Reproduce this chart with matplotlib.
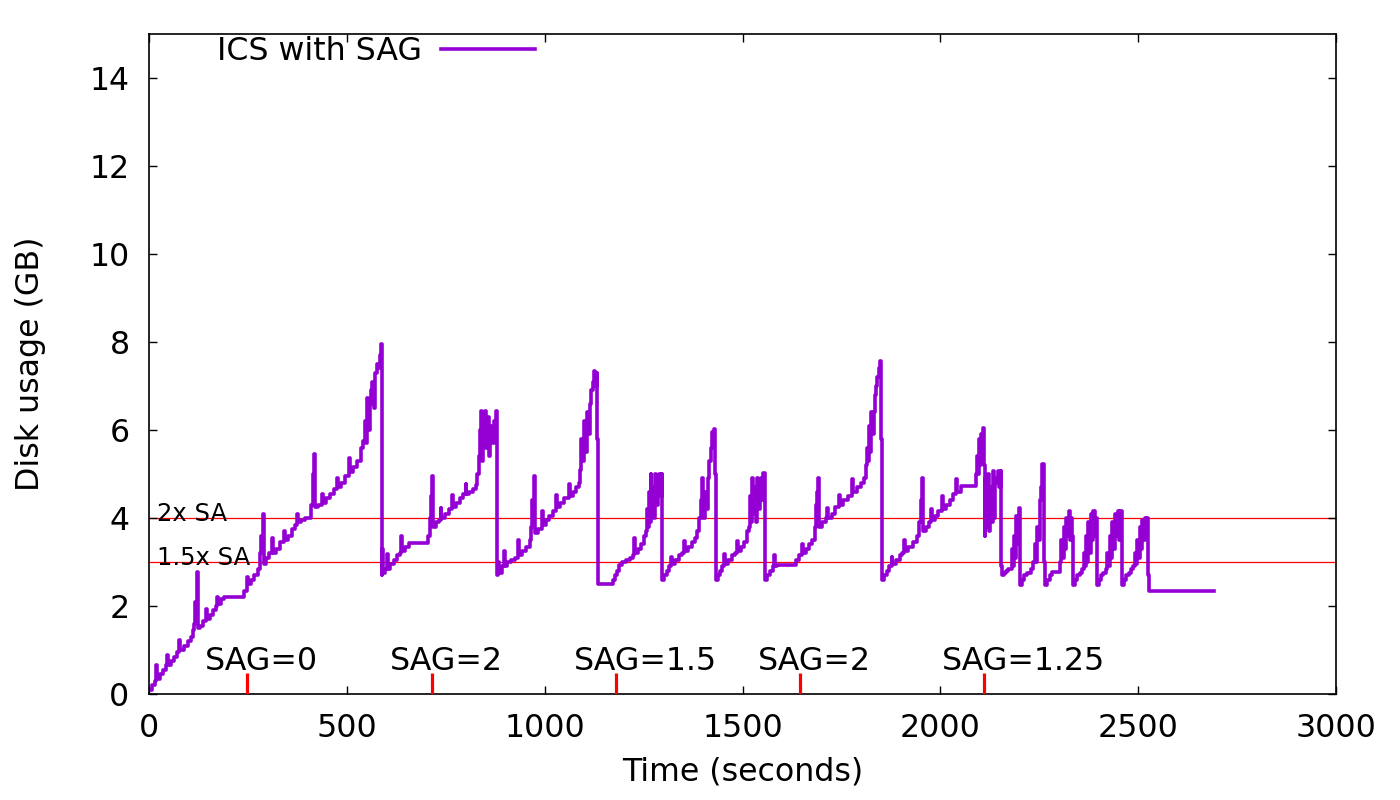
import matplotlib
matplotlib.use("Agg")
import matplotlib.pyplot as plt

plt.rcParams['font.family'] = ['DejaVu Sans']

# ---- data ----
time_s = [
    # cycle 1
    0, 8, 14, 18, 18, 20, 28, 35, 42, 45, 47, 55, 62, 70, 76, 78, 88, 98, 106, 110, 114, 117, 121, 123,
    130, 137, 144, 146, 155, 163, 170, 172, 174, 182, 190, 235, 240, 248, 248, 250, 258, 266, 275, 280,
    284, 288, 290, 296, 304, 311, 313, 320, 330, 341, 343, 352, 362, 370, 374, 376, 385, 395, 404, 410,
    414, 418, 420, 428, 438, 440, 448, 458, 467, 475, 477, 486, 495, 505, 507, 515, 525, 535, 540, 545,
    548, 551, 554, 558, 561, 564, 568, 572, 576, 580, 584, 587, 588,
    # cycle 2
    590, 592, 597, 601, 603, 610, 618, 626, 634, 637, 640, 648, 657, 702, 706, 710, 713, 715, 717, 725,
    733, 737, 739, 748, 757, 766, 768, 776, 785, 793, 800, 802, 810, 818, 826, 830, 834, 837, 840, 842,
    845, 848, 851, 854, 857, 860, 863, 867, 872, 876, 880, 880,
    # cycle 3
    882, 885, 892, 897, 899, 906, 915, 925, 932, 934, 943, 953, 962, 966, 969, 973, 975, 983, 993, 995,
    1003, 1012, 1020, 1028, 1030, 1040, 1050, 1061, 1063, 1072, 1080, 1086, 1090, 1093, 1096, 1100, 1103,
    1107, 1110, 1114, 1118, 1122, 1125, 1128, 1132, 1132, 1134, 1134, 1167,
    # cycle 4
    1172, 1178, 1183, 1188, 1195, 1205, 1215, 1222, 1226, 1228, 1236, 1244, 1251, 1256, 1259, 1261, 1264,
    1266, 1268, 1270, 1273, 1276, 1279, 1282, 1286, 1289, 1293, 1297, 1297,
    # cycle 5
    1302, 1308, 1314, 1319, 1321, 1330, 1340, 1348, 1352, 1354, 1362, 1372, 1380, 1385, 1390, 1394, 1398,
    1400, 1404, 1407, 1412, 1416, 1420, 1424, 1428, 1430, 1432, 1432,
    # cycle 6
    1437, 1443, 1448, 1453, 1455, 1464, 1474, 1482, 1486, 1488, 1496, 1504, 1512, 1516, 1519, 1521, 1524,
    1527, 1530, 1533, 1536, 1539, 1543, 1546, 1549, 1553, 1556, 1558, 1558,
    # cycle 7
    1563, 1570, 1576, 1580, 1582, 1588, 1630, 1636, 1643, 1650, 1652, 1660, 1668, 1676, 1682, 1686, 1689,
    1692, 1694, 1702, 1710, 1714, 1716, 1725, 1735, 1744, 1746, 1755, 1766, 1777, 1779, 1790, 1800, 1807,
    1811, 1814, 1817, 1820, 1823, 1826, 1829, 1832, 1835, 1838, 1841, 1844, 1847, 1850, 1850, 1852, 1852,
    # cycle 8
    1857, 1864, 1871, 1877, 1879, 1888, 1898, 1904, 1908, 1910, 1918, 1930, 1940, 1946, 1950, 1954, 1956,
    1965, 1972, 1976, 1978, 1986, 1995, 2004, 2006, 2015, 2025, 2033, 2039, 2041, 2052, 2085, 2089, 2092,
    2095, 2098, 2101, 2104, 2107, 2110, 2112, 2114, 2117, 2120, 2123, 2126, 2129, 2132, 2135, 2138, 2142,
    2145, 2149, 2153, 2153, 2156,
    # short cycles
    2160, 2165, 2170, 2176, 2180, 2183, 2186, 2189, 2192, 2195, 2198, 2201, 2201,
    2206, 2212, 2220, 2228, 2234, 2238, 2242, 2245, 2248, 2252, 2255, 2258, 2261, 2262, 2264,
    2270, 2276, 2282, 2298, 2302, 2306, 2309, 2312, 2315, 2318, 2321, 2324, 2327, 2330, 2333, 2336,
    2340, 2346, 2352, 2358, 2362, 2365, 2368, 2371, 2374, 2377, 2380, 2383, 2387, 2390, 2393, 2396, 2396,
    2400, 2406, 2412, 2418, 2422, 2425, 2428, 2431, 2434, 2437, 2441, 2444, 2448, 2451, 2455, 2459, 2459,
    2463, 2470, 2476, 2482, 2488, 2492, 2495, 2498, 2501, 2504, 2507, 2510, 2513, 2517, 2520, 2523, 2525,
    2527, 2527, 2691,
]

disk_gb = [
    # cycle 1
    0.1, 0.2, 0.3, 0.35, 0.66, 0.35, 0.45, 0.55, 0.65, 0.89, 0.65, 0.75, 0.85, 0.95, 1.23, 1.0, 1.1, 1.2, 1.3, 1.45, 1.6, 2.1, 2.78, 1.5,
    1.55, 1.65, 1.94, 1.7, 1.8, 1.9, 2.0, 2.2, 2.05, 2.15, 2.2, 2.2, 2.35, 2.45, 2.67, 2.5, 2.6, 2.7, 2.85, 3.2,
    3.6, 4.08, 2.95, 3.1, 3.2, 3.55, 3.2, 3.3, 3.45, 3.7, 3.5, 3.6, 3.75, 3.85, 4.08, 3.9, 3.95, 4.0, 4.0, 4.3,
    5.0, 5.45, 4.25, 4.3, 4.55, 4.35, 4.45, 4.55, 4.65, 4.9, 4.7, 4.8, 4.95, 5.36, 5.05, 5.15, 5.3, 5.6, 5.75, 6.2,
    5.7, 6.73, 6.0, 6.6, 6.9, 7.1, 6.5, 7.3, 7.5, 7.4, 7.7, 7.95, 2.71,
    # cycle 2
    3.3, 2.75, 2.85, 3.19, 2.85, 2.95, 3.05, 3.15, 3.2, 3.58, 3.25, 3.35, 3.44, 3.44, 3.6, 4.0, 4.5, 4.95, 3.8, 3.9,
    3.95, 4.22, 4.0, 4.1, 4.2, 4.53, 4.25, 4.35, 4.45, 4.55, 4.78, 4.55, 4.6, 4.65, 4.75, 5.0, 5.4, 6.0, 6.43, 5.3,
    6.0, 6.43, 5.6, 5.9, 6.3, 5.4, 6.1, 5.7, 6.2, 6.43, 6.4, 2.71,
    # cycle 3
    3.0, 2.75, 2.9, 3.24, 2.9, 3.0, 3.05, 3.1, 3.5, 3.15, 3.25, 3.35, 3.5, 3.8, 4.4, 4.95, 3.65, 3.75, 4.15, 3.85,
    3.95, 4.05, 4.15, 4.53, 4.25, 4.35, 4.45, 4.78, 4.5, 4.6, 4.7, 4.8, 5.1, 5.8, 5.3, 6.2, 5.5,
    6.4, 5.9, 6.6, 6.9, 7.1, 7.34, 7.0, 7.3, 5.79, 5.79, 2.51, 2.51,
    # cycle 4
    2.6, 2.7, 2.8, 2.94, 3.0, 3.05, 3.1, 3.15, 3.54, 3.2, 3.3, 3.4, 3.6, 3.7, 4.2, 3.8, 4.6,
    3.9, 4.99, 4.1, 4.7, 4.0, 4.99, 4.3, 4.7, 4.99, 4.5, 4.99, 2.6,
    # cycle 5
    2.7, 2.8, 2.9, 3.12, 2.95, 3.05, 3.15, 3.2, 3.47, 3.25, 3.35, 3.45, 3.55, 3.7, 4.0, 4.4, 4.9,
    4.0, 4.6, 4.2, 4.9, 5.3, 5.6, 5.95, 6.02, 5.0, 5.0, 2.6,
    # cycle 6
    2.7, 2.8, 2.9, 3.19, 2.95, 3.05, 3.15, 3.2, 3.47, 3.25, 3.35, 3.45, 3.7, 3.8, 4.5, 3.9, 4.9,
    4.1, 4.7, 3.9, 4.9, 4.2, 4.6, 4.9, 4.4, 5.02, 4.5, 5.02, 2.6,
    # cycle 7
    2.7, 2.8, 2.9, 3.17, 2.9, 2.94, 2.94, 3.05, 3.15, 3.42, 3.2, 3.3, 3.4, 3.5, 3.8, 4.3, 4.6,
    4.9, 3.8, 3.9, 4.0, 4.22, 4.0, 4.1, 4.25, 4.53, 4.3, 4.4, 4.5, 4.88, 4.6, 4.7, 4.8, 4.9,
    5.2, 5.6, 5.3, 6.1, 5.5, 6.4, 5.9, 6.4, 6.8, 7.0, 7.2, 7.4, 7.57, 7.57, 5.79, 5.79, 2.6,
    # cycle 8
    2.7, 2.8, 2.9, 3.12, 2.95, 3.05, 3.15, 3.2, 3.5, 3.25, 3.35, 3.45, 3.6, 3.9, 4.4, 4.9, 3.7,
    3.8, 3.9, 4.2, 3.95, 4.05, 4.15, 4.5, 4.2, 4.3, 4.4, 4.55, 4.88, 4.6, 4.72, 4.72, 5.0, 5.4,
    5.0, 5.8, 5.2, 5.9, 6.04, 5.2, 3.6, 4.9, 3.8, 5.0, 3.7, 4.7, 3.9, 5.06, 4.0, 4.8, 4.9,
    5.06, 4.7, 5.06, 2.9, 2.71,
    # short cycles
    2.75, 2.8, 2.85, 2.85, 3.3, 2.9, 3.6, 3.1, 4.04, 3.4, 4.22, 3.8, 2.48,
    2.6, 2.71, 2.75, 2.83, 3.0, 3.4, 3.0, 3.8, 3.5, 4.4, 4.7, 5.22, 4.6, 3.0, 2.48,
    2.6, 2.7, 2.78, 2.78, 3.0, 3.5, 3.1, 3.8, 3.3, 4.0, 3.6, 4.15, 3.5, 4.0, 3.6, 2.48,
    2.6, 2.7, 2.75, 2.85, 3.2, 2.9, 3.6, 3.0, 3.9, 3.2, 4.1, 3.5, 4.15, 3.6, 4.0, 3.7, 2.48,
    2.6, 2.7, 2.75, 2.85, 3.2, 2.9, 3.6, 3.1, 3.9, 3.3, 4.1, 3.6, 4.15, 3.5, 4.15, 3.0, 2.48,
    2.6, 2.7, 2.75, 2.85, 2.9, 3.2, 2.95, 3.5, 3.1, 3.8, 3.3, 3.95, 3.5, 4.0, 3.6, 4.0, 2.71,
    2.71, 2.33, 2.33,
]

sa_levels = [4.0, 3.0]
sa_labels = ["2x SA", "1.5x SA"]

sag_times = [248, 714, 1180, 1645, 2110]
sag_labels = ["SAG=0", "SAG=2", "SAG=1.5", "SAG=2", "SAG=1.25"]

x_ticks = [0, 500, 1000, 1500, 2000, 2500, 3000]
y_ticks = [0, 2, 4, 6, 8, 10, 12, 14]

# ---- figure ----
FS = 22.8
fig = plt.figure(figsize=(14, 8), dpi=100)
ax = fig.add_axes([149 / 1400, 1 - 694 / 800, (1336 - 149) / 1400, (694 - 34) / 800])

for lvl, lab in zip(sa_levels, sa_labels):
    ax.axhline(lvl, color='red', lw=0.9, zorder=1)
    ax.text(20, lvl + 0.09, lab, fontsize=17.5, va='center', ha='left', zorder=3)

line, = ax.plot(time_s, disk_gb, color='#9400D3', lw=2.6, drawstyle='steps-post',
                label='ICS with SAG', zorder=2)

ax.vlines(sag_times, 0, 0.48, color='red', lw=2.3, zorder=3)
for t, lab in zip(sag_times, sag_labels):
    ax.annotate(lab, xy=(t, 0.73), xytext=(-42 * 0.72, 0), textcoords='offset points',
                fontsize=FS, ha='left', va='center')

ax.set_xlim(0, 3000)
ax.set_ylim(0, 15)
ax.set_xticks(x_ticks)
ax.set_yticks(y_ticks)
ax.tick_params(direction='in', length=6, width=1, top=True, right=True,
               labelsize=FS)
ax.tick_params(axis='x', pad=14)
ax.tick_params(axis='y', pad=14)
for sp in ax.spines.values():
    sp.set_linewidth(1.2)

ax.set_xlabel('Time (seconds)', fontsize=FS, labelpad=9)
ax.set_ylabel('Disk usage (GB)', fontsize=FS, labelpad=31)

fig.legend(handles=[line], loc='center', bbox_to_anchor=(376 / 1400, 1 - 52 / 800),
           frameon=False, markerfirst=False, fontsize=FS, handlelength=2.95,
           handletextpad=0.6, borderpad=0)

fig.savefig('out.png', dpi=100)
